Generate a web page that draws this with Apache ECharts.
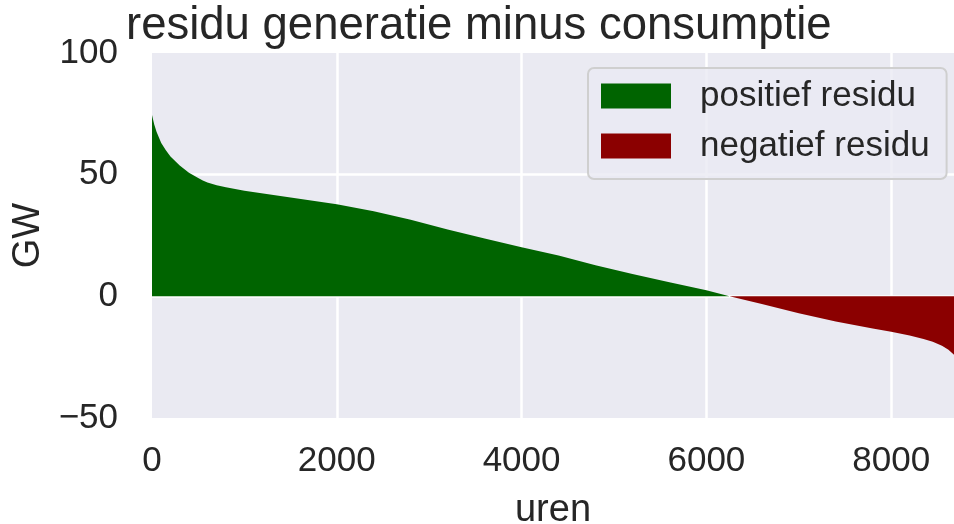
<!DOCTYPE html>
<html>
<head>
<meta charset="utf-8">
<script src="https://cdn.jsdelivr.net/npm/echarts@6/dist/echarts.min.js"></script>
<style>
html,body{margin:0;padding:0;background:#fff;}
#chart{width:954px;height:524px;}
</style>
</head>
<body>
<div id="chart"></div>
<script>
// Sorted residual (generation minus consumption) duration curve
const hours  = [0, 25, 50, 100, 150, 200, 300, 400, 500, 550, 600, 700, 800, 1000, 1500, 2000, 2400, 2800, 3200, 3600, 4000, 4400, 4800, 5200, 5600, 6000, 6250, 6600, 7000, 7400, 7800, 8000, 8200, 8350, 8450, 8550, 8620, 8680];
const residu = [74.5, 70.5, 67.5, 63, 60, 57.5, 53.8, 50.8, 48.6, 47.6, 46.8, 45.6, 44.8, 43.4, 40.6, 37.8, 35, 31.5, 27.5, 23.8, 20.2, 16.8, 12.8, 9.2, 5.8, 2.5, 0, -3.2, -7, -10.3, -13.2, -14.6, -16.1, -17.5, -18.7, -20.3, -22, -24];
const seriesNames = ['positief residu', 'negatief residu'];
const xTicks = [0, 2000, 4000, 6000, 8000];
const yTicks = [-50, 0, 50, 100];

const posData = [], negData = [];
hours.forEach((h, i) => {
  const v = residu[i];
  if (v >= 0) posData.push([h, v]);
  if (v <= 0) negData.push([h, v]);
});

const txt = '#262626';
const font = 'Liberation Sans, Arial, sans-serif';
const fmt = v => String(v).replace('-', '\u2212');
const chart = echarts.init(document.getElementById('chart'), null, {renderer: 'canvas'});
chart.setOption({
  animation: false,
  backgroundColor: '#ffffff',
  title: {
    text: 'residu generatie minus consumptie',
    left: 126, top: 3, padding: 0,
    textStyle: {color: txt, fontSize: 45.5, fontWeight: 'normal', fontFamily: font}
  },
  legend: {
    orient: 'vertical',
    left: 588, top: 68,
    padding: [8, 17, 13, 13],
    itemWidth: 70, itemHeight: 25, itemGap: 10,
    icon: 'rect',
    backgroundColor: 'rgba(234,234,242,0.8)',
    borderColor: '#cfcfcf', borderWidth: 2, borderRadius: 6,
    textStyle: {color: txt, fontSize: 35, fontFamily: font, lineHeight: 40, padding: [0, 0, 0, 24]},
    data: seriesNames
  },
  grid: {
    left: 152, right: 0, top: 53, bottom: 106,
    outerBoundsMode: 'none', containLabel: false,
    show: true, backgroundColor: '#EAEAF2', borderWidth: 0
  },
  xAxis: {
    type: 'value', min: xTicks[0], max: 8680, interval: xTicks[1] - xTicks[0],
    name: 'uren', nameLocation: 'middle', nameGap: 74,
    nameTextStyle: {color: txt, fontSize: 38, fontFamily: font},
    axisLine: {show: false}, axisTick: {show: false},
    axisLabel: {color: txt, fontSize: 35, fontFamily: font, margin: 26, showMaxLabel: false, formatter: fmt},
    splitLine: {show: true, showMinLine: false, showMaxLine: false, lineStyle: {color: '#ffffff', width: 2.5}}
  },
  yAxis: {
    type: 'value', min: yTicks[0], max: yTicks[yTicks.length - 1], interval: yTicks[1] - yTicks[0],
    name: 'GW', nameLocation: 'middle', nameGap: 102,
    nameTextStyle: {color: txt, fontSize: 38, fontFamily: font},
    axisLine: {show: false}, axisTick: {show: false},
    axisLabel: {color: txt, fontSize: 35, fontFamily: font, margin: 34, formatter: fmt},
    splitLine: {show: true, showMinLine: false, showMaxLine: false, lineStyle: {color: '#ffffff', width: 2.5}}
  },
  series: [
    {
      name: seriesNames[0], type: 'line', data: posData,
      showSymbol: false, smooth: false,
      lineStyle: {width: 0}, itemStyle: {color: '#006400'},
      areaStyle: {color: '#006400', opacity: 1}
    },
    {
      name: seriesNames[1], type: 'line', data: negData,
      showSymbol: false, smooth: false,
      lineStyle: {width: 0}, itemStyle: {color: '#8B0000'},
      areaStyle: {color: '#8B0000', opacity: 1}
    }
  ]
});
</script>
</body>
</html>
